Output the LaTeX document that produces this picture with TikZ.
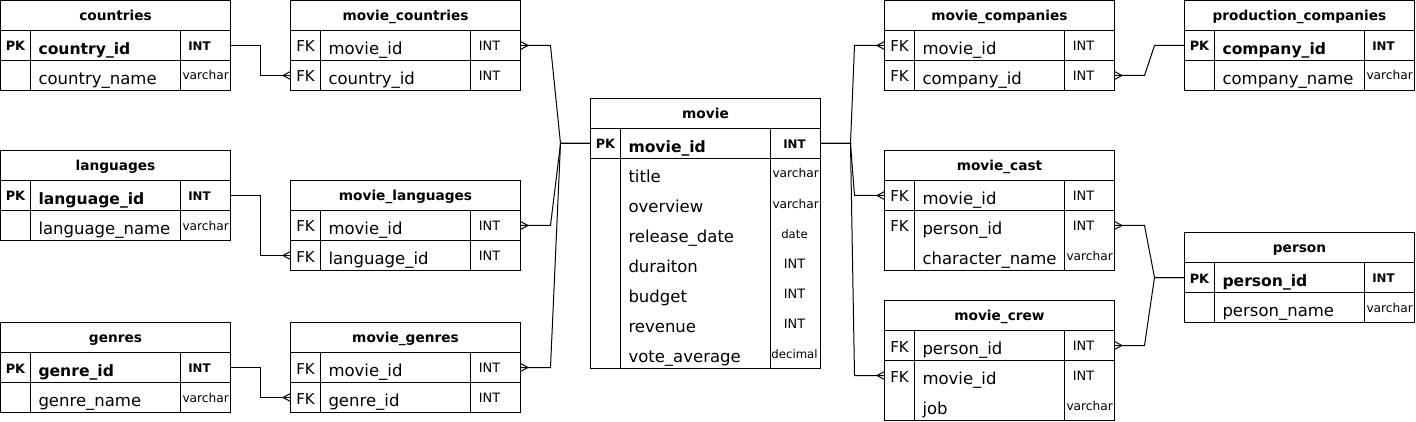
\documentclass[tikz,border=0pt]{standalone}
\usepackage{fontspec}
\setmainfont{DejaVu Sans}
\usepackage{tikz}
\usetikzlibrary{calc}

\pgfdeclarearrow{
  name = crow,
  setup code = {
    \pgfarrowssettipend{0pt}
    \pgfarrowssetlineend{0pt}
    \pgfarrowssetbackend{-7.5pt}
    \pgfarrowshullpoint{0pt}{4pt}
    \pgfarrowshullpoint{0pt}{-4pt}
    \pgfarrowshullpoint{-7.5pt}{0pt}
  },
  drawing code = {
    \pgfsetdash{}{0pt}
    \pgfsetroundjoin
    \pgfpathmoveto{\pgfqpoint{0pt}{4pt}}
    \pgfpathlineto{\pgfqpoint{-7.5pt}{0pt}}
    \pgfpathlineto{\pgfqpoint{0pt}{-4pt}}
    \pgfusepathqstroke
  }
}

\tikzset{
    tabtitle/.style={draw, anchor=north west, minimum width=230pt, minimum height=30pt, inner sep=0pt, outer sep=0pt, text height=10.5pt, text depth=0.5pt, font=\fontsize{13.7}{16}\selectfont\bfseries},
    tabline/.style={line width=1pt},
    pkey/.style={minimum width=30pt, minimum height=30pt, inner sep=0pt, outer sep=0pt, text height=11pt, text depth=0pt, font=\fontsize{12.8}{15}\selectfont\bfseries},
    fkey/.style={pkey, text height=13pt, font=\fontsize{15}{18}\selectfont},
    pkname/.style={anchor=west, minimum height=30pt, inner sep=0pt, outer sep=0pt, text height=18pt, text depth=0pt, font=\fontsize{15.6}{19}\selectfont\bfseries},
    colname/.style={pkname, font=\fontsize{16.5}{19}\selectfont},
    pktype/.style={minimum height=30pt, inner sep=0pt, outer sep=0pt, text height=10pt, text depth=0pt, font=\fontsize{11.8}{14}\selectfont\bfseries},
    coltype/.style={pktype, font=\fontsize{12.9}{15}\selectfont},
    smalltype/.style={pktype, font=\fontsize{11.7}{14}\selectfont},
    vartype/.style={pktype, anchor=west, text height=9pt, font=\fontsize{12.2}{14}\selectfont},
    rel/.style={line width=1pt, -crow},
}

\begin{document}
\begin{tikzpicture}[x=1pt, y=-1pt, line width=1pt]
        \useasboundingbox (0,0) rectangle (1416,422);

        \node[tabtitle] (countries) at (0.5,0.5) {countries};
        \draw[tabline] (0.5,30.5) rectangle (230.5,90.5) (30.5,30.5) -- (30.5,90.5) (180.5,30.5) -- (180.5,90.5) (0.5,60.5) -- (230.5,60.5);
        \node[pkey] (ctry-k1) at (15.5,45.5) {PK};
        \node[pkname] (ctry-n1) at (38.5,45.5) {country\_id};
        \node[pktype] (ctry-t1) at (199.5,45.5) {INT};
        \node[colname] (ctry-n2) at (38.5,75.5) {country\_name};
        \node[vartype] (ctry-t2) at (182.5,75.5) {varchar};

        \node[tabtitle] (mcou) at (290.5,0.5) {movie\_countries};
        \draw[tabline] (290.5,30.5) rectangle (520.5,90.5) (320.5,30.5) -- (320.5,90.5) (470.5,30.5) -- (470.5,90.5) (290.5,60.5) -- (520.5,60.5);
        \node[fkey] (mcou-k1) at (305.5,45.5) {FK};
        \node[colname] (mcou-n1) at (328.5,45.5) {movie\_id};
        \node[coltype] (mcou-t1) at (489.5,45.5) {INT};
        \node[fkey] (mcou-k2) at (305.5,75.5) {FK};
        \node[colname] (mcou-n2) at (328.5,75.5) {country\_id};
        \node[coltype] (mcou-t2) at (489.5,75.5) {INT};

        \node[tabtitle] (languages) at (0.5,150.5) {languages};
        \draw[tabline] (0.5,180.5) rectangle (230.5,240.5) (30.5,180.5) -- (30.5,240.5) (180.5,180.5) -- (180.5,240.5) (0.5,210.5) -- (230.5,210.5);
        \node[pkey] (lang-k1) at (15.5,195.5) {PK};
        \node[pkname] (lang-n1) at (38.5,195.5) {language\_id};
        \node[pktype] (lang-t1) at (199.5,195.5) {INT};
        \node[colname] (lang-n2) at (38.5,225.5) {language\_name};
        \node[vartype] (lang-t2) at (182.5,225.5) {varchar};

        \node[tabtitle] (mlang) at (290.5,180.5) {movie\_languages};
        \draw[tabline] (290.5,210.5) rectangle (520.5,270.5) (320.5,210.5) -- (320.5,270.5) (470.5,210.5) -- (470.5,270.5) (290.5,240.5) -- (520.5,240.5);
        \node[fkey] (mlang-k1) at (305.5,225.5) {FK};
        \node[colname] (mlang-n1) at (328.5,225.5) {movie\_id};
        \node[coltype] (mlang-t1) at (489.5,225.5) {INT};
        \node[fkey] (mlang-k2) at (305.5,255.5) {FK};
        \node[colname] (mlang-n2) at (328.5,255.5) {language\_id};
        \node[coltype] (mlang-t2) at (489.5,255.5) {INT};

        \node[tabtitle] (genres) at (0.5,322.5) {genres};
        \draw[tabline] (0.5,352.5) rectangle (230.5,412.5) (30.5,352.5) -- (30.5,412.5) (180.5,352.5) -- (180.5,412.5) (0.5,382.5) -- (230.5,382.5);
        \node[pkey] (genr-k1) at (15.5,367.5) {PK};
        \node[pkname] (genr-n1) at (38.5,367.5) {genre\_id};
        \node[pktype] (genr-t1) at (199.5,367.5) {INT};
        \node[colname] (genr-n2) at (38.5,397.5) {genre\_name};
        \node[vartype] (genr-t2) at (182.5,397.5) {varchar};

        \node[tabtitle] (mgen) at (290.5,322.5) {movie\_genres};
        \draw[tabline] (290.5,352.5) rectangle (520.5,412.5) (320.5,352.5) -- (320.5,412.5) (470.5,352.5) -- (470.5,412.5) (290.5,382.5) -- (520.5,382.5);
        \node[fkey] (mgen-k1) at (305.5,367.5) {FK};
        \node[colname] (mgen-n1) at (328.5,367.5) {movie\_id};
        \node[coltype] (mgen-t1) at (489.5,367.5) {INT};
        \node[fkey] (mgen-k2) at (305.5,397.5) {FK};
        \node[colname] (mgen-n2) at (328.5,397.5) {genre\_id};
        \node[coltype] (mgen-t2) at (489.5,397.5) {INT};

        \node[tabtitle] (movie) at (590.5,98.5) {movie};
        \draw[tabline] (590.5,128.5) rectangle (820.5,368.5) (620.5,128.5) -- (620.5,368.5) (770.5,128.5) -- (770.5,368.5) (590.5,158.5) -- (820.5,158.5);
        \node[pkey] (movie-k1) at (605.5,143.5) {PK};
        \node[pkname] (movie-n1) at (628.5,143.5) {movie\_id};
        \node[pktype] (movie-t1) at (794.5,143.5) {INT};
        \node[colname] (movie-n2) at (628.5,173.5) {title};
        \node[vartype] (movie-t2) at (772.5,173.5) {varchar};
        \node[colname] (movie-n3) at (628.5,203.5) {overview};
        \node[vartype] (movie-t3) at (772.5,203.5) {varchar};
        \node[colname] (movie-n4) at (628.5,233.5) {release\_date};
        \node[smalltype] (movie-t4) at (794.5,233.5) {date};
        \node[colname] (movie-n5) at (628.5,263.5) {duraiton};
        \node[coltype] (movie-t5) at (794.5,263.5) {INT};
        \node[colname] (movie-n6) at (628.5,293.5) {budget};
        \node[coltype] (movie-t6) at (794.5,293.5) {INT};
        \node[colname] (movie-n7) at (628.5,323.5) {revenue};
        \node[coltype] (movie-t7) at (794.5,323.5) {INT};
        \node[colname] (movie-n8) at (628.5,353.5) {vote\_average};
        \node[smalltype] (movie-t8) at (794.5,353.5) {decimal};

        \node[tabtitle] (mcomp) at (884.5,0.5) {movie\_companies};
        \draw[tabline] (884.5,30.5) rectangle (1114.5,90.5) (914.5,30.5) -- (914.5,90.5) (1064.5,30.5) -- (1064.5,90.5) (884.5,60.5) -- (1114.5,60.5);
        \node[fkey] (mcomp-k1) at (899.5,45.5) {FK};
        \node[colname] (mcomp-n1) at (922.5,45.5) {movie\_id};
        \node[coltype] (mcomp-t1) at (1083.5,45.5) {INT};
        \node[fkey] (mcomp-k2) at (899.5,75.5) {FK};
        \node[colname] (mcomp-n2) at (922.5,75.5) {company\_id};
        \node[coltype] (mcomp-t2) at (1083.5,75.5) {INT};

        \node[tabtitle] (prodc) at (1184.5,0.5) {production\_companies};
        \draw[tabline] (1184.5,30.5) rectangle (1414.5,90.5) (1214.5,30.5) -- (1214.5,90.5) (1364.5,30.5) -- (1364.5,90.5) (1184.5,60.5) -- (1414.5,60.5);
        \node[pkey] (prodc-k1) at (1199.5,45.5) {PK};
        \node[pkname] (prodc-n1) at (1222.5,45.5) {company\_id};
        \node[pktype] (prodc-t1) at (1383.5,45.5) {INT};
        \node[colname] (prodc-n2) at (1222.5,75.5) {company\_name};
        \node[vartype] (prodc-t2) at (1366.5,75.5) {varchar};

        \node[tabtitle] (mcast) at (884.5,150.5) {movie\_cast};
        \draw[tabline] (884.5,180.5) rectangle (1114.5,270.5) (914.5,180.5) -- (914.5,270.5) (1064.5,180.5) -- (1064.5,270.5) (884.5,210.5) -- (1114.5,210.5);
        \node[fkey] (mcast-k1) at (899.5,195.5) {FK};
        \node[colname] (mcast-n1) at (922.5,195.5) {movie\_id};
        \node[coltype] (mcast-t1) at (1083.5,195.5) {INT};
        \node[fkey] (mcast-k2) at (899.5,225.5) {FK};
        \node[colname] (mcast-n2) at (922.5,225.5) {person\_id};
        \node[coltype] (mcast-t2) at (1083.5,225.5) {INT};
        \node[colname] (mcast-n3) at (922.5,255.5) {character\_name};
        \node[vartype] (mcast-t3) at (1066.5,255.5) {varchar};

        \node[tabtitle] (mcrew) at (884.5,300.5) {movie\_crew};
        \draw[tabline] (884.5,330.5) rectangle (1114.5,420.5) (914.5,330.5) -- (914.5,420.5) (1064.5,330.5) -- (1064.5,420.5) (884.5,360.5) -- (1114.5,360.5);
        \node[fkey] (mcrew-k1) at (899.5,345.5) {FK};
        \node[colname] (mcrew-n1) at (922.5,345.5) {person\_id};
        \node[coltype] (mcrew-t1) at (1083.5,345.5) {INT};
        \node[fkey] (mcrew-k2) at (899.5,375.5) {FK};
        \node[colname] (mcrew-n2) at (922.5,375.5) {movie\_id};
        \node[coltype] (mcrew-t2) at (1083.5,375.5) {INT};
        \node[colname] (mcrew-n3) at (922.5,405.5) {job};
        \node[vartype] (mcrew-t3) at (1066.5,405.5) {varchar};

        \node[tabtitle] (person) at (1184.5,232.5) {person};
        \draw[tabline] (1184.5,262.5) rectangle (1414.5,322.5) (1214.5,262.5) -- (1214.5,322.5) (1364.5,262.5) -- (1364.5,322.5) (1184.5,292.5) -- (1414.5,292.5);
        \node[pkey] (pers-k1) at (1199.5,277.5) {PK};
        \node[pkname] (pers-n1) at (1222.5,277.5) {person\_id};
        \node[pktype] (pers-t1) at (1383.5,277.5) {INT};
        \node[colname] (pers-n2) at (1222.5,307.5) {person\_name};
        \node[vartype] (pers-t2) at (1366.5,307.5) {varchar};

        \draw[rel] (ctry-t1 -| countries.east) -- ++(30,0) -- ($(mcou-k2.west)+(-30,0)$) -- (mcou-k2.west);
        \draw[rel] (lang-t1 -| languages.east) -- ++(30,0) -- ($(mlang-k2.west)+(-30,0)$) -- (mlang-k2.west);
        \draw[rel] (genr-t1 -| genres.east) -- ++(30,0) -- ($(mgen-k2.west)+(-30,0)$) -- (mgen-k2.west);

        \draw[rel] (movie-k1.west) -- ++(-30,0) -- ($(mcou-t1 -| mcou.east)+(30,0)$) -- (mcou-t1 -| mcou.east);
        \draw[rel] (movie-k1.west) -- ++(-30,0) -- ($(mlang-t1 -| mlang.east)+(30,0)$) -- (mlang-t1 -| mlang.east);
        \draw[rel] (movie-k1.west) -- ++(-30,0) -- ($(mgen-t1 -| mgen.east)+(30,0)$) -- (mgen-t1 -| mgen.east);

        \draw[rel] (movie-t1 -| movie.east) -- ++(30,0) -- ($(mcomp-k1.west)+(-30,0)$) -- (mcomp-k1.west);
        \draw[rel] (movie-t1 -| movie.east) -- ++(30,0) -- ($(mcast-k1.west)+(-30,0)$) -- (mcast-k1.west);
        \draw[rel] (movie-t1 -| movie.east) -- ++(30,0) -- ($(mcrew-k2.west)+(-30,0)$) -- (mcrew-k2.west);

        \draw[rel] (prodc-k1.west) -- ++(-30,0) -- ($(mcomp-t2 -| mcomp.east)+(30,0)$) -- (mcomp-t2 -| mcomp.east);
        \draw[rel] (pers-k1.west) -- ++(-30,0) -- ($(mcast-t2 -| mcast.east)+(30,0)$) -- (mcast-t2 -| mcast.east);
        \draw[rel] (pers-k1.west) -- ++(-30,0) -- ($(mcrew-t1 -| mcrew.east)+(30,0)$) -- (mcrew-t1 -| mcrew.east);
    \end{tikzpicture}
\end{document}
